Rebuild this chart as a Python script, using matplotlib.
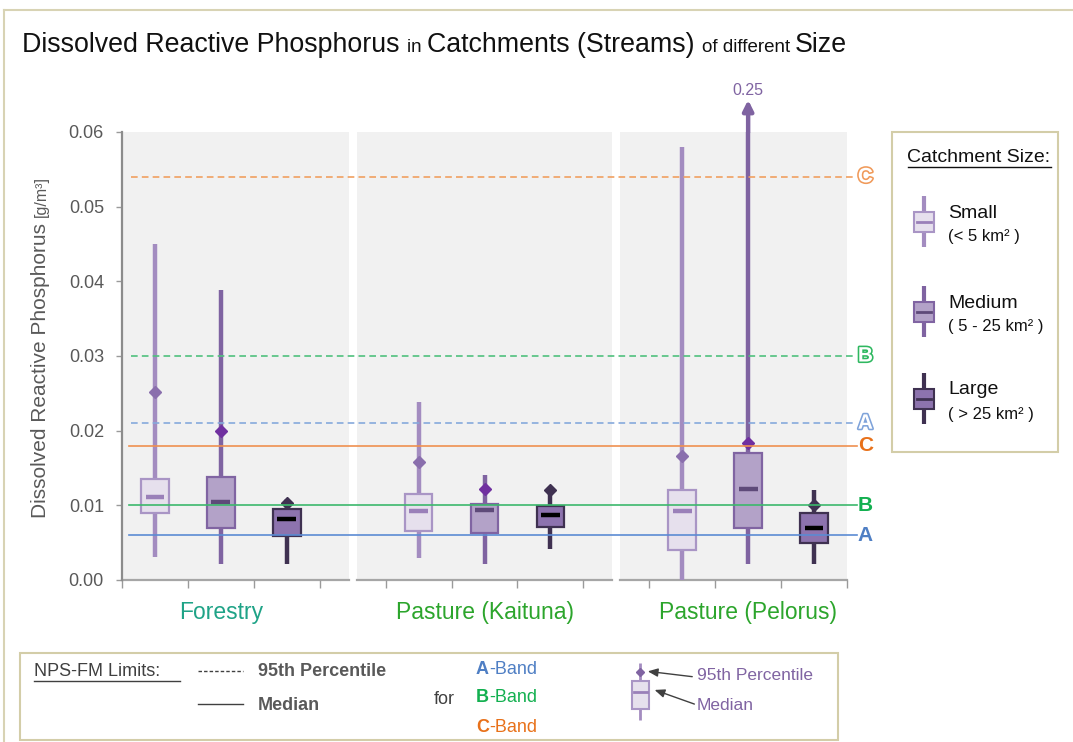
import numpy as np
import matplotlib.pyplot as plt
import matplotlib.patheffects as pe
from matplotlib.patches import Rectangle

plt.rcParams["font.family"] = ["Liberation Sans", "DejaVu Sans"]

# ---- data ----
groups = ["Forestry", "Pasture (Kaituna)", "Pasture (Pelorus)"]
group_colors = ["#1fa387", "#2ca52c", "#2ca52c"]
sizes = ["Small", "Medium", "Large"]

whisker_lo = [[0.0031, 0.0022, 0.0022], [0.0030, 0.0022, 0.0041], [0.0000, 0.0022, 0.0022]]
q1 = [[0.0090, 0.0070, 0.0059], [0.0065, 0.0063, 0.0071], [0.0040, 0.0070, 0.0049]]
median = [[0.0111, 0.0104, 0.0082], [0.0092, 0.0094, 0.0087], [0.0092, 0.0122, 0.0070]]
q3 = [[0.0135, 0.0138, 0.0095], [0.0115, 0.0102, 0.0099], [0.0121, 0.0170, 0.0090]]
p95 = [[0.0252, 0.0199, 0.0103], [0.0158, 0.0122, 0.0120], [0.0166, 0.0183, 0.0101]]
whisker_hi = [[0.0450, 0.0388, 0.0109], [0.0239, 0.0140, 0.0120], [0.0580, 0.2500, 0.0120]]

bands = ["A", "B", "C"]
band_p95 = [0.021, 0.030, 0.054]
band_median = [0.006, 0.010, 0.018]
yticks = [0.00, 0.01, 0.02, 0.03, 0.04, 0.05, 0.06]

# ---- styles ----
box_face = ["#e6e0ed", "#b3a2c8", "#8d73ae"]
box_edge = ["#a995c5", "#8064a2", "#3f3151"]
whisk_col = ["#a38cc0", "#7f63a1", "#3f3151"]
med_col = ["#9a80b9", "#5e4a79", "#000000"]
diam_col = ["#8a6fad", "#7030a0", "#3f3151"]
band_line = ["#5b8bd3", "#3cb86c", "#ef9050"]
band_dash = ["#86a9dc", "#4fc07d", "#f0a060"]
band_text = ["#4f7fc4", "#13b050", "#e8711a"]
band_hollow = ["#7fa3da", "#2fb860", "#f09a5a"]

W, H = 1073, 742
fig = plt.figure(figsize=(W / 100, H / 100), dpi=100)

# overlay for figure-level decoration in pixel units
ov = fig.add_axes([0, 0, 1, 1], zorder=0)
ov.set_xlim(0, W)
ov.set_ylim(H, 0)
ov.axis("off")

ax = fig.add_axes([122 / W, 1 - 580 / H, 725 / W, 448 / H], zorder=2)
ax.patch.set_alpha(0)
ax.set_xlim(0, 11)
ax.set_ylim(0, 0.06)

ymax = 0.06
# grey panels with white gaps
for g in range(3):
    left = 0 if g == 0 else 4 * g - 0.44
    right = 11 if g == 2 else 4 * g + 3.44
    ax.axvspan(left, right, color="#f1f1f1", zorder=0, lw=0)
    ax.plot([left, right], [0, 0], color="#a6a6a6", lw=1.6, clip_on=False, zorder=1)

bw = 0.42
for g in range(3):
    for s in range(3):
        x = 4 * g + s + 0.5
        top = min(whisker_hi[g][s], ymax)
        ax.plot([x, x], [whisker_lo[g][s], top], color=whisk_col[s], lw=3.2,
                solid_capstyle="butt", zorder=2, clip_on=False)
        ax.add_patch(Rectangle((x - bw / 2, q1[g][s]), bw, q3[g][s] - q1[g][s],
                               facecolor=box_face[s], edgecolor=box_edge[s], lw=1.6, zorder=3))
        ax.plot([x - bw * 0.34, x + bw * 0.34], [median[g][s]] * 2, color=med_col[s],
                lw=3.2, solid_capstyle="butt", zorder=4)
        ax.plot(x, p95[g][s], marker="D", ms=6.5, color=diam_col[s], zorder=4)
        if whisker_hi[g][s] > ymax:
            ax.annotate("", xy=(x, 0.0643), xytext=(x, ymax), annotation_clip=False,
                        arrowprops=dict(arrowstyle="-|>,head_width=0.3,head_length=0.6",
                                        color=whisk_col[s], lw=3.2, shrinkA=0, shrinkB=0))
            ax.text(x, 0.0655, f"{whisker_hi[g][s]:.2f}", ha="center", va="center",
                    fontsize=11.5, color="#8064a2", clip_on=False)

# NPS-FM band limits
for b in range(3):
    ax.plot([0.14, 11.1], [band_p95[b]] * 2, color=band_dash[b], lw=1.2,
            dashes=(4, 2.5), clip_on=False, zorder=5)
    ax.plot([0.1, 11.15], [band_median[b]] * 2, color=band_line[b], lw=1.2,
            clip_on=False, zorder=5)
    ax.text(11.28, band_p95[b], bands[b], ha="center", va="center", fontsize=15,
            fontweight="bold", color="white", clip_on=False,
            path_effects=[pe.Stroke(linewidth=2.3, foreground=band_hollow[b]),
                          pe.Normal()])
    ax.text(11.28, band_median[b], bands[b], ha="center", va="center", fontsize=15,
            fontweight="bold", color=band_text[b], clip_on=False)

for sp in ["top", "right", "bottom"]:
    ax.spines[sp].set_visible(False)
ax.spines["left"].set_color("#8c8c8c")
ax.spines["left"].set_linewidth(1.6)
ax.set_xticks(np.arange(12))
ax.set_yticks(yticks)
ax.set_yticklabels([f"{v:.2f}" for v in yticks])
ax.tick_params(axis="x", length=6, width=1, color="#9a9a9a", labelbottom=False)
ax.tick_params(axis="y", length=4, width=1, color="#9a9a9a", labelcolor="#595959",
               labelsize=13, pad=9)

for g in range(3):
    ax.text(4 * g + 1.5, -0.072, groups[g], transform=ax.get_xaxis_transform(),
            ha="center", va="center", fontsize=16.5, color=group_colors[g])

renderer = fig.canvas.get_renderer()


def run_text(x, y, pieces, **kw):
    for txt, size in pieces:
        t = ov.text(x, y, txt, fontsize=size, va="baseline", ha="left", **kw)
        x += t.get_window_extent(renderer).width
    return x


# frame
ov.plot([4, W], [10, 10], color="#d8d3b4", lw=1.5)
ov.plot([4, 4], [10, H], color="#d8d3b4", lw=1.5)

# title
run_text(22, 52, [("Dissolved Reactive Phosphorus ", 19.3), ("in ", 13.5),
                  ("Catchments (Streams) ", 19.3), ("of different ", 13.5), ("Size", 19.3)],
         color="#111111")

# y label
t1 = ov.text(41, 518, "Dissolved Reactive Phosphorus ", rotation=90, fontsize=15,
             color="#595959", ha="left", va="center", rotation_mode="anchor")
h1 = t1.get_window_extent(renderer).height
ov.text(41, 518 - h1, "[g/m³]", rotation=90, fontsize=11.5, color="#595959",
        ha="left", va="center", rotation_mode="anchor")

# right legend: catchment size
ov.add_patch(Rectangle((892, 132), 166, 320, facecolor="white", edgecolor="#d3cda8", lw=1.5))
ov.text(979, 157, "Catchment Size:", fontsize=14, ha="center", va="center", color="#111111")
ov.plot([908, 1051], [167, 167], color="#111111", lw=1)
icon_y = [222, 312, 399]
sub = ["(< 5 km² )", "( 5 - 25 km² )", "( > 25 km² )"]
for s in range(3):
    cy = icon_y[s]
    ov.plot([924, 924], [cy - 26, cy + 25], color=whisk_col[s], lw=3, solid_capstyle="butt")
    ov.add_patch(Rectangle((914, cy - 10), 20, 20, facecolor=box_face[s],
                           edgecolor=box_edge[s], lw=1.5, zorder=3))
    ov.plot([917, 931], [cy, cy], color=med_col[s] if s < 2 else "#3f3151", lw=2, zorder=4)
    ov.text(948, cy - 9, sizes[s], fontsize=14, va="center", color="#111111")
    ov.text(948, cy + 15, sub[s], fontsize=12, va="center", color="#111111")

# bottom legend: NPS-FM limits
ov.add_patch(Rectangle((20, 653), 818, 87, facecolor="white", edgecolor="#d3cda8", lw=1.5))
ov.text(34, 672, "NPS-FM Limits:", fontsize=13, va="center", color="#404040")
ov.plot([34, 180], [681, 681], color="#404040", lw=1)
ov.plot([198, 243], [671, 671], color="#404040", lw=1, dashes=(2.5, 1.5))
ov.plot([198, 243], [704, 704], color="#404040", lw=1)
ov.text(258, 671, "95th Percentile", fontsize=13, fontweight="bold", va="center", color="#595959")
ov.text(258, 705, "Median", fontsize=13, fontweight="bold", va="center", color="#595959")
ov.text(434, 700, "for", fontsize=13, va="center", color="#404040")
for b, yy in zip(range(3), [669, 698, 727]):
    t = ov.text(476, yy, bands[b], fontsize=13, fontweight="bold", va="center", color=band_text[b])
    wb = t.get_window_extent(renderer).width
    ov.text(476 + wb, yy, "-Band", fontsize=13, va="center", color=band_text[b])

# box explanation icon
ov.plot([640, 640], [663, 720], color="#a38cc0", lw=2, solid_capstyle="butt")
ov.add_patch(Rectangle((632, 681), 17, 28, facecolor="#e6e0ed", edgecolor="#a995c5", lw=1.5, zorder=3))
ov.plot([634, 647], [692, 692], color="#9a80b9", lw=2, zorder=4)
ov.plot(640, 672, marker="D", ms=4, color="#8064a2", zorder=4)
ov.annotate("", xy=(645, 671), xytext=(695, 677),
            arrowprops=dict(arrowstyle="-|>,head_width=0.25,head_length=0.6", color="#404040", lw=1))
ov.annotate("", xy=(652, 689), xytext=(697, 705),
            arrowprops=dict(arrowstyle="-|>,head_width=0.25,head_length=0.6", color="#404040", lw=1))
ov.text(697, 676, "95th Percentile", fontsize=12.5, va="center", color="#8064a2")
ov.text(697, 706, "Median", fontsize=12.5, va="center", color="#8064a2")

fig.savefig("out.png", dpi=100)
